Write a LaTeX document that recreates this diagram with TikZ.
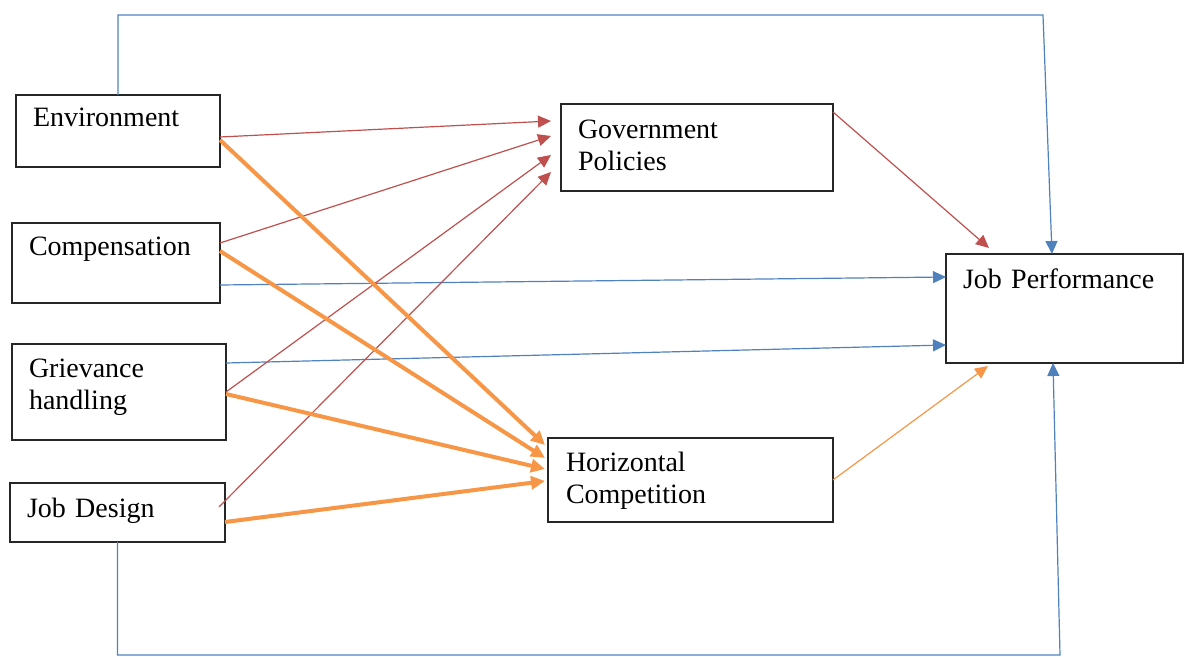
\documentclass[tikz,border=0pt]{standalone}
\usepackage{fontspec}
\setmainfont{Liberation Serif}
\usetikzlibrary{positioning, arrows.meta, calc}
\definecolor{linkred}{HTML}{C0504D}
\definecolor{linkblue}{HTML}{4F81BD}
\definecolor{linkorange}{HTML}{F79646}
\tikzset{
	>={Triangle[length=6.5pt,width=6pt]},
	varbox/.style={draw=black!85, line width=0.75pt, inner ysep=0pt, inner xsep=8.5pt, outer sep=0pt, align=left, anchor=north west, font=\fontsize{14}{16}\selectfont},
	blueline/.style={->, draw=linkblue, line width=0.6pt},
	redline/.style={->, draw=linkred, line width=0.6pt},
	orangeline/.style={-{Triangle[length=7pt,width=6.5pt]}, draw=linkorange, line width=2pt},
	orangethin/.style={->, draw=linkorange, line width=0.6pt},
}

\begin{document}
\begin{tikzpicture}[x=1pt, y=1pt]
			\useasboundingbox (0,0) rectangle (592,-328.5);
			
			\node [varbox, text width=85pt, text height=16pt, text depth=20pt] (ENV) at (8,-47.5) {Environment};
			\node [varbox, text width=87pt, text height=16.5pt, text depth=23.5pt, below=28pt of ENV.south west, anchor=north west, xshift=-2pt] (COMP) {Compensation};
			\node [varbox, text width=90pt, text height=17pt, text depth=31pt, below=20.5pt of COMP.south west, anchor=north west] (GRIEV) {Grievance\\handling};
			\node [varbox, text width=90.5pt, text height=17.5pt, text depth=12pt, below=21.5pt of GRIEV.south west, anchor=north west, xshift=-1pt] (JD) {Job Design};
			\node [varbox, text width=119pt, text height=17.5pt, text depth=26pt] (GP) at (280.5,-52) {Government\\Policies};
			\node [varbox, inner xsep=9pt, text width=124.5pt, text height=17pt, text depth=25pt, below=123.5pt of GP.south west, anchor=north west, xshift=-6.5pt] (HC) {Horizontal\\Competition};
			\node [varbox, text width=101.5pt, text height=17.5pt, text depth=37pt] (JP) at (473,-127) {Job Performance};
			
			\coordinate (TOPright) at (521.5,-7.5);
			\coordinate (BOTright) at (530,-327.5);
			
			\draw[blueline] (ENV.north) |- (TOPright) -- ([xshift=-6.25pt]JP.north);
			\draw[blueline] (JD.south) |- (BOTright) -- ([xshift=-5.75pt]JP.south);
			\draw ([yshift=-11pt]COMP.east) edge[blueline] ([yshift=15.75pt]JP.west);
			\draw ([yshift=14.5pt]GRIEV.east) edge[blueline] ([yshift=-18.25pt]JP.west);
			
			\draw ([yshift=-3pt]ENV.east) edge[redline] ([xshift=-5pt, yshift=13.25pt]GP.west);
			\draw ([yshift=10pt]COMP.east) edge[redline] ([xshift=-5pt, yshift=5.75pt]GP.west);
			\draw (GRIEV.east) edge[redline] ([xshift=-5pt, yshift=-3.75pt]GP.west);
			\draw ([xshift=-3pt, yshift=2.75pt]JD.east) edge[redline] ([xshift=-5pt, yshift=-12.25pt]GP.west);
			\draw ([yshift=-4pt]GP.north east) edge[redline] ([xshift=21.5pt, yshift=3pt]JP.north west);
			
			\draw ([yshift=-4.5pt]ENV.east) edge[orangeline] ([xshift=-1.5pt, yshift=17.5pt]HC.west);
			\draw ([yshift=6pt]COMP.east) edge[orangeline] ([xshift=-1.5pt, yshift=11pt]HC.west);
			\draw ([yshift=-1pt]GRIEV.east) edge[orangeline] ([xshift=-1.5pt, yshift=5.5pt]HC.west);
			\draw ([yshift=-4.75pt]JD.east) edge[orangeline] ([xshift=-1.5pt, yshift=-0.5pt]HC.west);
			\draw (HC.east) edge[orangethin] ([xshift=21pt, yshift=-1.5pt]JP.south west);
			
		\end{tikzpicture}
\end{document}
